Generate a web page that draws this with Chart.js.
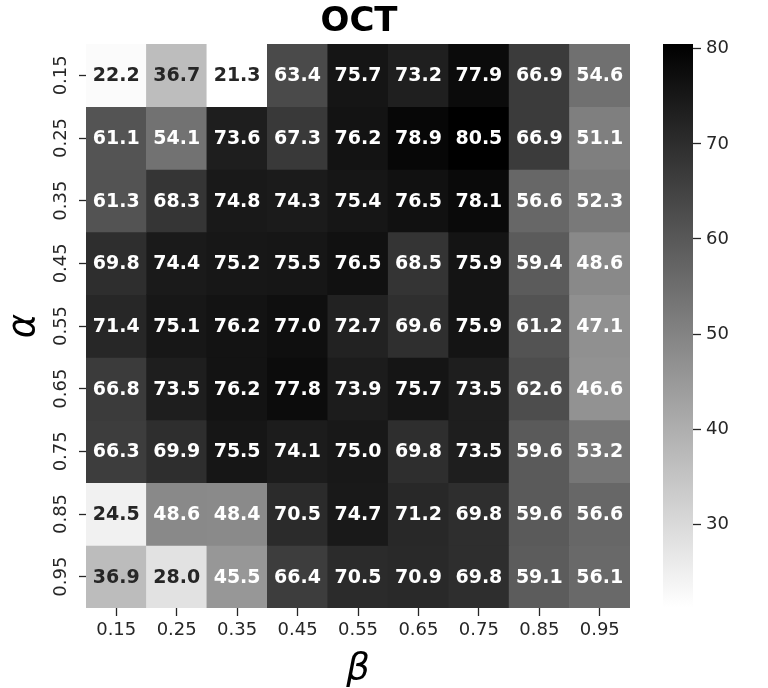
<!DOCTYPE html>
<html>
<head>
<meta charset="utf-8">
<script src="https://cdn.jsdelivr.net/npm/chart.js@4.4.0/dist/chart.umd.min.js"></script>
<style>
  html, body { margin: 0; padding: 0; background: #fff; }
  #wrap { position: relative; width: 768px; height: 688px; }
  #heat { position: absolute; left: 0; top: 0; }
  #cbar { position: absolute; left: 640px; top: 0; }
</style>
</head>
<body>
<div id="wrap">
  <canvas id="heat" width="768" height="688"></canvas>
  <canvas id="cbar" width="128" height="688"></canvas>
</div>
<script>
// ── data ──
const betaLabels  = ["0.15", "0.25", "0.35", "0.45", "0.55", "0.65", "0.75", "0.85", "0.95"];
const alphaLabels = ["0.15", "0.25", "0.35", "0.45", "0.55", "0.65", "0.75", "0.85", "0.95"];

const a015 = [22.2, 36.7, 21.3, 63.4, 75.7, 73.2, 77.9, 66.9, 54.6];
const a025 = [61.1, 54.1, 73.6, 67.3, 76.2, 78.9, 80.5, 66.9, 51.1];
const a035 = [61.3, 68.3, 74.8, 74.3, 75.4, 76.5, 78.1, 56.6, 52.3];
const a045 = [69.8, 74.4, 75.2, 75.5, 76.5, 68.5, 75.9, 59.4, 48.6];
const a055 = [71.4, 75.1, 76.2, 77.0, 72.7, 69.6, 75.9, 61.2, 47.1];
const a065 = [66.8, 73.5, 76.2, 77.8, 73.9, 75.7, 73.5, 62.6, 46.6];
const a075 = [66.3, 69.9, 75.5, 74.1, 75.0, 69.8, 73.5, 59.6, 53.2];
const a085 = [24.5, 48.6, 48.4, 70.5, 74.7, 71.2, 69.8, 59.6, 56.6];
const a095 = [36.9, 28.0, 45.5, 66.4, 70.5, 70.9, 69.8, 59.1, 56.1];
const rows = [a015, a025, a035, a045, a055, a065, a075, a085, a095];

const cbarTicks = [30, 40, 50, 60, 70, 80];
const chartTitle = "OCT";

// ── colour helpers (gray_r) ──
const FONT = '"DejaVu Sans", "Liberation Sans", sans-serif';
const INK = "#262626";
const vmin = Math.min(...rows.flat());
const vmax = Math.max(...rows.flat());

function greyLevel(v) {
  return Math.round(255 * (1 - (v - vmin) / (vmax - vmin)));
}
function cellColour(v) {
  const g = greyLevel(v);
  return `rgb(${g},${g},${g})`;
}
function textColour(v) {
  const g = greyLevel(v) / 255;
  const lum = g <= 0.03928 ? g / 12.92 : Math.pow((g + 0.055) / 1.055, 2.4);
  return lum > 0.408 ? INK : "#ffffff";
}

// ── text overlay: annotations, title, rotated y labels, axis titles ──
const heatText = {
  id: "heatText",
  afterDatasetsDraw(chart) {
    const c = chart.ctx;
    c.save();
    c.font = `bold 19px ${FONT}`;
    c.textAlign = "center";
    c.textBaseline = "middle";
    chart.data.datasets.forEach((ds, r) => {
      chart.getDatasetMeta(r).data.forEach((bar, j) => {
        const v = rows[r][j];
        c.fillStyle = textColour(v);
        c.fillText(v.toFixed(1), bar.x, (bar.y + bar.base) / 2 + 1);
      });
    });
    c.restore();
  },
  afterDraw(chart) {
    const c = chart.ctx;
    const area = chart.chartArea;
    const yS = chart.scales.y;
    c.save();
    c.textAlign = "center";
    c.textBaseline = "middle";

    // title
    c.fillStyle = "#000";
    c.font = `bold 34px ${FONT}`;
    c.fillText(chartTitle, (area.left + area.right) / 2 + 1, 22);

    // y tick labels, rotated
    c.fillStyle = INK;
    c.font = `18px ${FONT}`;
    alphaLabels.forEach((lab, i) => {
      c.save();
      c.translate(61, yS.getPixelForValue(i));
      c.rotate(-Math.PI / 2);
      c.fillText(lab, 0, 0);
      c.restore();
    });

    // axis titles
    c.fillStyle = "#000";
    c.font = `italic 37px ${FONT}`;
    c.save();
    c.translate(24, (area.top + area.bottom) / 2);
    c.rotate(-Math.PI / 2);
    c.fillText("α", 0, 0);
    c.restore();
    c.fillText("β", (area.left + area.right) / 2, 669);
    c.restore();
  }
};

// ── heatmap ──
new Chart(document.getElementById("heat"), {
  type: "bar",
  data: {
    labels: betaLabels,
    datasets: rows.map((vals, r) => ({
      data: vals.map(() => [r - 0.5, r + 0.5]),
      backgroundColor: vals.map(cellColour),
      grouped: false,
      barPercentage: 1,
      categoryPercentage: 1,
      borderWidth: 0,
    })),
  },
  options: {
    responsive: false,
    animation: false,
    devicePixelRatio: 1,
    layout: { padding: { top: 44, right: 138, left: 0, bottom: 0 } },
    plugins: { legend: { display: false }, tooltip: { enabled: false }, title: { display: false } },
    scales: {
      x: {
        type: "category",
        offset: true,
        border: { display: false },
        grid: { offset: false, drawOnChartArea: false, tickLength: 8, tickColor: INK, tickWidth: 1.3 },
        ticks: { color: INK, font: { family: FONT, size: 18 }, padding: 4, maxRotation: 0, autoSkip: false },
        afterFit: s => { s.height = 80; },
      },
      y: {
        type: "linear",
        min: -0.5,
        max: 8.5,
        reverse: true,
        border: { display: false },
        grid: { drawOnChartArea: false, tickLength: 7, tickColor: INK, tickWidth: 1.3 },
        ticks: { color: "rgba(0,0,0,0)", font: { family: FONT, size: 18 }, callback: v => alphaLabels[v] ?? "" },
        afterBuildTicks: s => { s.ticks = alphaLabels.map((_, i) => ({ value: i })); },
        afterFit: s => { s.width = 86; },
      },
    },
  },
  plugins: [heatText],
});

// ── colour bar ──
function cbarGradient(ctx) {
  const ch = ctx.chart;
  const a = ch.chartArea;
  if (!a) return "#888";
  const g = ch.ctx.createLinearGradient(0, a.bottom, 0, a.top);
  g.addColorStop(0, "#ffffff");
  g.addColorStop(1, "#000000");
  return g;
}

new Chart(document.getElementById("cbar"), {
  type: "bar",
  data: {
    labels: [""],
    datasets: [{
      data: [[vmin, vmax]],
      backgroundColor: cbarGradient,
      barPercentage: 1,
      categoryPercentage: 1,
      borderWidth: 0,
    }],
  },
  options: {
    responsive: false,
    animation: false,
    devicePixelRatio: 1,
    layout: { padding: { left: 23, top: 44, bottom: 81, right: 0 } },
    plugins: { legend: { display: false }, tooltip: { enabled: false } },
    scales: {
      x: { display: false },
      y: {
        position: "right",
        min: vmin,
        max: vmax,
        border: { display: false },
        grid: { drawOnChartArea: false, tickLength: 8, tickColor: INK, tickWidth: 1.3 },
        ticks: { color: INK, font: { family: FONT, size: 18 }, padding: 5 },
        afterBuildTicks: s => { s.ticks = cbarTicks.map(v => ({ value: v })); },
        afterFit: s => { s.width = 75; },
      },
    },
  },
});
</script>
</body>
</html>
